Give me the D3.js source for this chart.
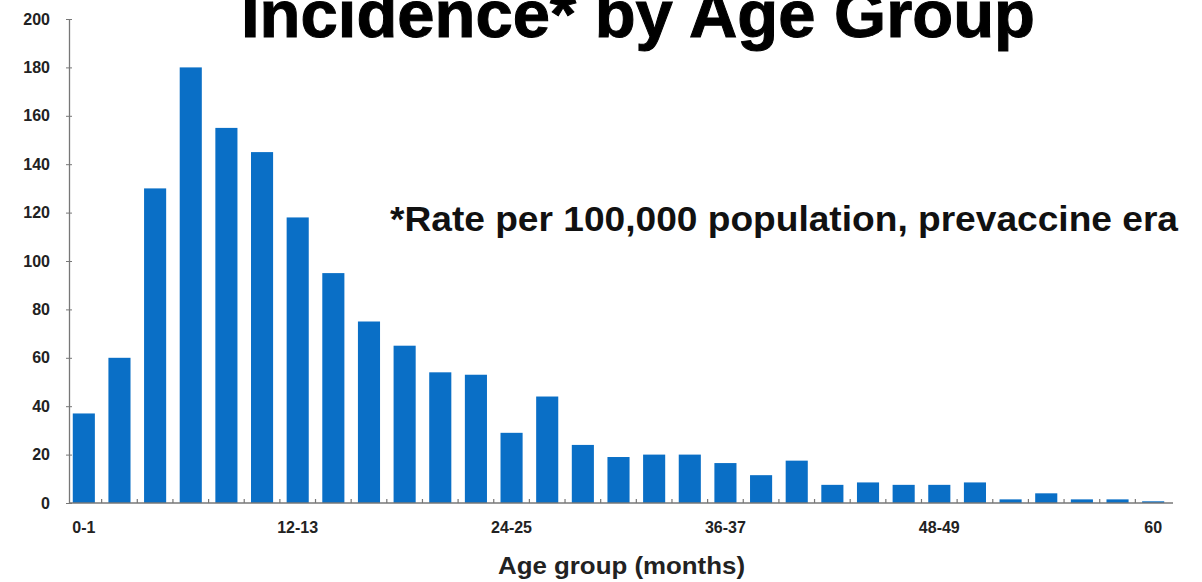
<!DOCTYPE html>
<html>
<head>
<meta charset="utf-8">
<script src="https://cdn.jsdelivr.net/npm/d3@7"></script>
<style>
  html, body { margin: 0; padding: 0; background: #fff; }
  svg { display: block; }
  text { font-family: "Liberation Sans", Arial, sans-serif; font-weight: bold; }
</style>
</head>
<body>
<svg id="chart" width="1202" height="582"></svg>
<script>
// Age groups in months (two-month bins, last bin is 60)
const ageGroups = ["0-1","2-3","4-5","6-7","8-9","10-11","12-13","14-15","16-17","18-19",
  "20-21","22-23","24-25","26-27","28-29","30-31","32-33","34-35","36-37","38-39",
  "40-41","42-43","44-45","46-47","48-49","50-51","52-53","54-55","56-57","58-59","60"];

// Incidence rate per 100,000 population
const incidence = [37, 60, 130, 180, 155, 145, 118, 95, 75, 65,
  54, 53, 29, 44, 24, 19, 20, 20, 16.5, 11.5,
  17.5, 7.5, 8.5, 7.5, 7.5, 8.5, 1.5, 4, 1.5, 1.5, 0.7];

// Groups that carry a label on the x axis
const labelledGroups = ["0-1", "12-13", "24-25", "36-37", "48-49", "60"];

const yTicks = [0, 20, 40, 60, 80, 100, 120, 140, 160, 180, 200];

const titleText = "Incidence* by Age Group";
const noteText = "*Rate per 100,000 population, prevaccine era";
const xAxisTitle = "Age group (months)";

const svg = d3.select("#chart");
const axisX = 69, baseY = 503, topY = 19, rightX = 1173;

const x = d3.scaleBand()
  .domain(ageGroups)
  .range([66, 1171])
  .paddingInner(0.38)
  .paddingOuter(0.19);

const y = d3.scaleLinear().domain([0, 200]).range([baseY, topY]);

// Bars
svg.append("g")
  .selectAll("rect")
  .data(ageGroups.map((g, i) => ({ g, v: incidence[i] })))
  .join("rect")
  .attr("x", d => x(d.g))
  .attr("width", x.bandwidth())
  .attr("y", d => y(d.v))
  .attr("height", d => baseY - y(d.v))
  .attr("fill", "#0a6fc6");

// Y axis
const yAxis = svg.append("g").attr("transform", `translate(${axisX},0)`);
yAxis.call(d3.axisLeft(y).tickValues(yTicks).tickSize(3).tickSizeOuter(0).tickPadding(16));
yAxis.select(".domain").attr("stroke", "#777").attr("stroke-width", 1.3);
yAxis.selectAll(".tick line").attr("stroke", "#777").attr("x2", 3).attr("x1", -3);
yAxis.selectAll(".tick text")
  .attr("fill", "#222")
  .style("font-size", "16px")
  .style("font-family", "'Liberation Sans', Arial, sans-serif")
  .style("font-weight", "bold");

// X axis baseline with small ticks between the bars
svg.append("line")
  .attr("x1", axisX).attr("x2", rightX)
  .attr("y1", baseY).attr("y2", baseY)
  .attr("stroke", "#777").attr("stroke-width", 1.3);

const step = x.step();
svg.append("g")
  .selectAll("line")
  .data(ageGroups.slice(1))
  .join("line")
  .attr("x1", d => x(d) - step * x.paddingInner() / 2)
  .attr("x2", d => x(d) - step * x.paddingInner() / 2)
  .attr("y1", baseY)
  .attr("y2", baseY - 4)
  .attr("stroke", "#777")
  .attr("stroke-width", 1.2);

// X tick labels
svg.append("g")
  .selectAll("text")
  .data(labelledGroups)
  .join("text")
  .attr("x", d => x(d) + x.bandwidth() / 2)
  .attr("y", 533)
  .attr("text-anchor", "middle")
  .attr("fill", "#222")
  .style("font-size", "16px")
  .text(d => d);

// Axis title
svg.append("text")
  .attr("x", 498).attr("y", 574)
  .attr("fill", "#222")
  .attr("textLength", 247)
  .attr("lengthAdjust", "spacingAndGlyphs")
  .style("font-size", "24px")
  .text(xAxisTitle);

// Chart title (its top runs past the upper edge)
svg.append("text")
  .attr("x", 241).attr("y", 37)
  .attr("fill", "#000")
  .attr("stroke", "#000")
  .attr("stroke-width", 1)
  .attr("textLength", 794)
  .attr("lengthAdjust", "spacingAndGlyphs")
  .style("font-size", "66px")
  .text(titleText);

// Footnote on the rate
svg.append("text")
  .attr("x", 390).attr("y", 231)
  .attr("fill", "#111")
  .attr("textLength", 788)
  .attr("lengthAdjust", "spacingAndGlyphs")
  .style("font-size", "35px")
  .text(noteText);
</script>
</body>
</html>
